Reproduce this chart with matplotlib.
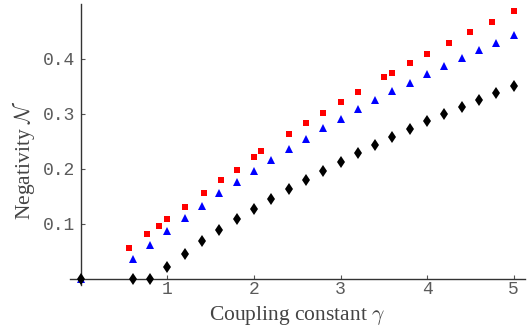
import matplotlib
matplotlib.use("Agg")
import matplotlib.pyplot as plt

plt.rcParams['mathtext.fontset'] = 'cm'

# Data
black_x = [0, 0.6, 0.8, 1.0, 1.2, 1.4, 1.6, 1.8, 2.0, 2.2, 2.4, 2.6, 2.8, 3.0, 3.2, 3.4, 3.6, 3.8, 4.0, 4.2, 4.4, 4.6, 4.8, 5.0]
black_y = [0, 0, 0, 0.021, 0.045, 0.068, 0.088, 0.108, 0.127, 0.145, 0.163, 0.180, 0.196, 0.212, 0.228, 0.2436, 0.258, 0.273, 0.286, 0.2995, 0.3127, 0.3255, 0.3376, 0.350]

blue_x = [0, 0.6, 0.8, 1.0, 1.2, 1.4, 1.6, 1.8, 2.0, 2.2, 2.4, 2.6, 2.8, 3.0, 3.2, 3.4, 3.6, 3.8, 4.0, 4.2, 4.4, 4.6, 4.8, 5.0]
blue_y = [0, 0.0364, 0.062, 0.087, 0.110, 0.133, 0.155, 0.176, 0.196, 0.216, 0.2357, 0.2545, 0.2735, 0.291, 0.308, 0.325, 0.341, 0.356, 0.3716, 0.3867, 0.401, 0.415, 0.429, 0.4425]

red_x = [0.56, 0.76, 0.90, 1.0, 1.2, 1.42, 1.62, 1.8, 2.0, 2.08, 2.4, 2.6, 2.8, 3.0, 3.2, 3.5, 3.6, 3.8, 4.0, 4.25, 4.5, 4.75, 5.0]
red_y = [0.0564, 0.082, 0.096, 0.1085, 0.130, 0.1564, 0.179, 0.198, 0.2215, 0.2315, 0.2625, 0.2825, 0.302, 0.3207, 0.3395, 0.366, 0.3745, 0.3916, 0.4085, 0.428, 0.448, 0.467, 0.486]

xticks = [1, 2, 3, 4, 5]
yticks = [0.1, 0.2, 0.3, 0.4]
ytick_labels = ["0.1", "0.2", "0.3", "0.4"]

fig = plt.figure(figsize=(5.27, 3.30), dpi=100)
ax = fig.add_axes([0.1334, 0.1355, 0.8628, 0.8533])

ax.plot(red_x, red_y, 's', color='#ff0000', markersize=4.2, markeredgewidth=0, zorder=3)
ax.plot(blue_x, blue_y, '^', color='#0000ff', markersize=6.0, markeredgewidth=0, zorder=3)
ax.plot(black_x, black_y, 'd', color='black', markersize=6.3, markeredgewidth=0, zorder=4)

ax.set_xlim(-0.12, 5.13)
ax.set_ylim(-0.012, 0.5)

for s in ['top', 'right']:
    ax.spines[s].set_visible(False)
ax.spines['left'].set_position(('data', 0))
ax.spines['bottom'].set_position(('data', 0))
for s in ['left', 'bottom']:
    ax.spines[s].set_color('#333333')
    ax.spines[s].set_linewidth(1.0)

ax.set_xticks(xticks)
ax.set_xticklabels([str(t) for t in xticks], fontfamily='Liberation Mono', fontsize=13, color='#5a5a5a')
ax.set_yticks(yticks)
ax.set_yticklabels(ytick_labels, fontfamily='Liberation Mono', fontsize=13, color='#5a5a5a')
ax.tick_params(axis='both', direction='in', length=3, width=0.8, color='#555555')
ax.tick_params(axis='x', pad=2)
ax.tick_params(axis='y', pad=4)

fig.text(0.563, 0.008, r'Coupling constant $\gamma$', fontfamily='Liberation Serif', fontsize=15.5, color='#444444', ha='center', va='bottom')
fig.text(0.045, 0.515, r'Negativity $\mathcal{N}$', fontfamily='Liberation Serif', fontsize=15.5, color='#444444', ha='center', va='center', rotation=90)

fig.savefig('out.png', dpi=100)
